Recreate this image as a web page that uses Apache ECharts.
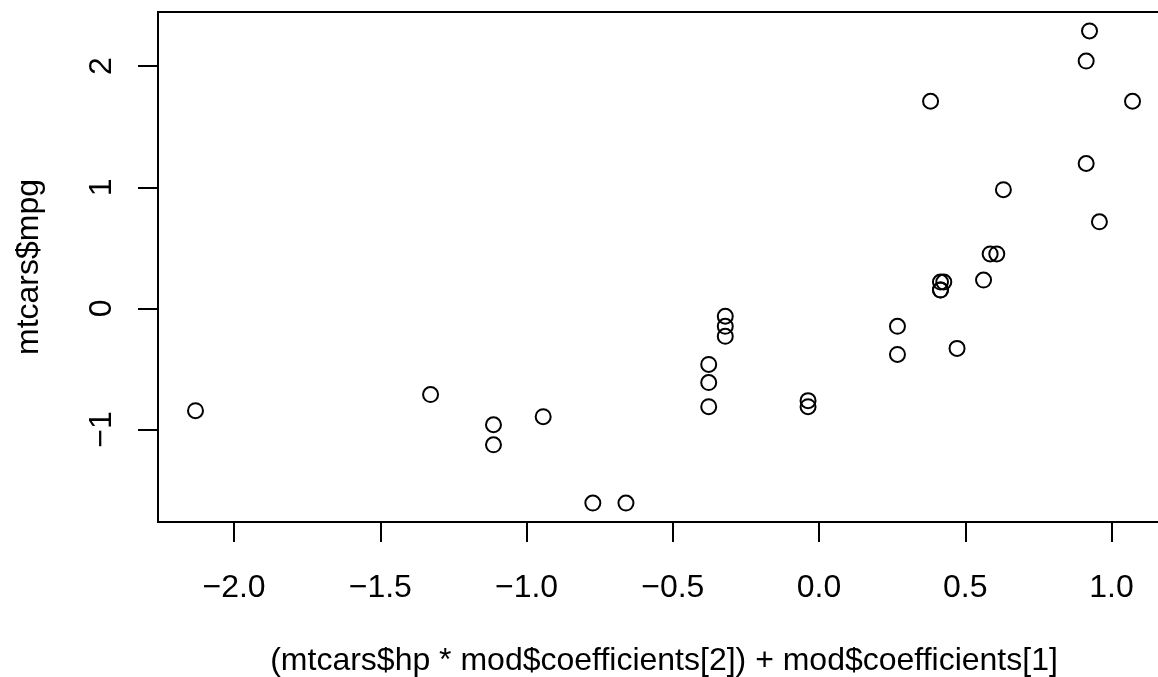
<!DOCTYPE html>
<html>
<head>
<meta charset="utf-8">
<script src="https://cdn.jsdelivr.net/npm/echarts@6/dist/echarts.min.js"></script>
<style>
html,body{margin:0;padding:0;background:#fff;overflow:hidden;}
#chart{width:1158px;height:677px;}
</style>
</head>
<body>
<div id="chart"></div>
<script>
// x: (mtcars$hp * mod$coefficients[2]) + mod$coefficients[1]
const xValues = [0.4153, 0.4153, 0.6078, 0.4153, -0.3205, 0.4719, -1.1130, 0.9587,
  0.5851, 0.2682, 0.2682, -0.3771, -0.3771, -0.3771, -0.6601, -0.7733,
  -0.9431, 0.9134, 1.0719, 0.9248, 0.5625, -0.0375, -0.0375, -1.1130,
  -0.3205, 0.9134, 0.6304, 0.3814, -1.3281, -0.3205, -2.1318, 0.4266];
// y: mtcars$mpg (standardised)
const yValues = [0.1509, 0.1509, 0.4495, 0.2173, -0.2307, -0.3303, -0.9608, 0.7150,
  0.4495, -0.1478, -0.3801, -0.6124, -0.4630, -0.8115, -1.6079, -1.6079,
  -0.8944, 2.0424, 1.7105, 2.2913, 0.2339, -0.7617, -0.8115, -1.1267,
  -0.1478, 1.1962, 0.9805, 1.7105, -0.7119, -0.0648, -0.8446, 0.2173];
const xTicks = [-2.0, -1.5, -1.0, -0.5, 0.0, 0.5, 1.0];
const yTicks = [-1, 0, 1, 2];
const xTitle = '(mtcars$hp * mod$coefficients[2]) + mod$coefficients[1]';
const yTitle = 'mtcars$mpg';

const FONT = '"Liberation Sans", Arial, Helvetica, sans-serif';
const fmt = (v, d) => (v < 0 ? '\u2212' : '') + Math.abs(v).toFixed(d);

const points = xValues.map((x, i) => [x, yValues[i]]);

const chart = echarts.init(document.getElementById('chart'), null, {renderer: 'canvas'});
chart.setOption({
  animation: false,
  backgroundColor: '#ffffff',
  grid: {
    left: 158, top: 12, width: 1012, height: 510,
    outerBoundsMode: 'none', containLabel: false,
    show: true, borderColor: '#000', borderWidth: 2, backgroundColor: 'transparent'
  },
  xAxis: {
    type: 'value',
    min: -2.26, max: 1.2,
    splitLine: {show: false},
    axisLine: {show: false, onZero: false},
    axisTick: {show: true, inside: false, length: 20, customValues: xTicks,
      lineStyle: {color: '#000', width: 2}},
    axisLabel: {show: true, customValues: xTicks, margin: 50,
      formatter: v => fmt(v, 1),
      color: '#000', fontFamily: FONT, fontSize: 32},
    name: xTitle,
    nameLocation: 'middle',
    nameGap: 123,
    nameTextStyle: {color: '#000', fontFamily: FONT, fontSize: 32, verticalAlign: 'top'}
  },
  yAxis: {
    type: 'value',
    min: -1.7639, max: 2.4473,
    splitLine: {show: false},
    axisLine: {show: false, onZero: false},
    axisTick: {show: true, inside: false, length: 20, customValues: yTicks,
      lineStyle: {color: '#000', width: 2}},
    axisLabel: {show: true, customValues: yTicks, margin: 40, rotate: 90,
      align: 'center', verticalAlign: 'bottom',
      formatter: v => fmt(v, 0),
      color: '#000', fontFamily: FONT, fontSize: 32},
    name: yTitle,
    nameLocation: 'middle',
    nameGap: 113,
    nameRotate: 90,
    nameTextStyle: {color: '#000', fontFamily: FONT, fontSize: 32, align: 'center', verticalAlign: 'bottom'}
  },
  series: [{
    type: 'scatter',
    data: points,
    symbol: 'circle',
    symbolSize: 15,
    itemStyle: {color: 'rgba(0,0,0,0)', borderColor: '#000', borderWidth: 2, opacity: 1},
    emphasis: {disabled: true},
    clip: false
  }]
});
</script>
</body>
</html>
